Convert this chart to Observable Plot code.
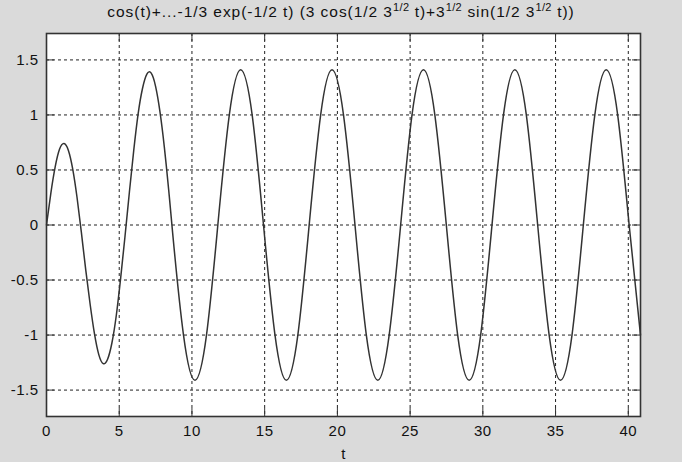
<!DOCTYPE html>
<html><head><meta charset="utf-8">
<script src="https://cdn.jsdelivr.net/npm/d3@7"></script>
<script src="https://cdn.jsdelivr.net/npm/@observablehq/plot@0.6"></script>
<style>
html,body{margin:0;padding:0;background:#dadada;}
#wrap{width:682px;height:462px;position:relative;overflow:hidden;background:#dadada;font-family:"Liberation Sans",Arial,sans-serif;}
#title{position:absolute;left:0;width:682px;top:3px;text-align:center;font-size:15.5px;line-height:18px;letter-spacing:0.95px;color:#111;white-space:nowrap;}
#title sup{font-size:11px;line-height:0;vertical-align:6px;letter-spacing:0.4px;}
#chart{position:absolute;left:0;top:28px;}
</style>
</head><body>
<div id="wrap">
<div id="title">cos(t)+...-1/3 exp(-1/2 t) (3 cos(1/2 3<sup>1/2</sup> t)+3<sup>1/2</sup> sin(1/2 3<sup>1/2</sup> t))</div>
<div id="chart"></div>
</div>
<script>
const tValues = [0, 0.3, 0.6, 0.9, 1.2, 1.5, 1.8, 2.1, 2.4, 2.7, 3.0, 3.3, 3.6, 3.9, 4.2, 4.5, 4.8, 5.1, 5.4, 5.7, 6.0, 6.3, 6.6, 6.9, 7.2, 7.5, 7.8, 8.1, 8.4, 8.7,
  9.42, 10.21, 11.00, 11.78, 12.57, 13.35, 14.14, 14.92, 15.71, 16.49, 17.28, 18.06, 18.85, 19.63, 20.42, 21.21,
  21.99, 22.78, 23.56, 24.35, 25.13, 25.92, 26.70, 27.49, 28.27, 29.06, 29.85, 30.63, 31.42, 32.20, 32.99, 33.77,
  34.56, 35.34, 36.13, 36.91, 37.70, 38.48, 39.27, 40.06, 40.84];
const yValues = [0, 0.29, 0.53, 0.69, 0.74, 0.68, 0.51, 0.25, -0.07, -0.41, -0.72, -0.99, -1.18, -1.26, -1.22, -1.07, -0.82, -0.48, -0.10, 0.30, 0.68, 1.01, 1.24, 1.37, 1.38, 1.26, 1.03, 0.71, 0.32, -0.11,
  -1.00, -1.41, -1.00, 0.00, 1.00, 1.41, 1.00, 0.00, -1.00, -1.41, -1.00, 0.00, 1.00, 1.41, 1.00, 0.00,
  -1.00, -1.41, -1.00, 0.00, 1.00, 1.41, 1.00, 0.00, -1.00, -1.41, -1.00, 0.00, 1.00, 1.41, 1.00, 0.00,
  -1.00, -1.41, -1.00, 0.00, 1.00, 1.41, 1.00, 0.00, -1.00];
const xTicks = [0, 5, 10, 15, 20, 25, 30, 35, 40];
const yTicks = [-1.5, -1, -0.5, 0, 0.5, 1, 1.5];
const xLabel = "t";

const data = tValues.map((t, i) => ({t, y: yValues[i]}));
const W = 682, H = 434, mL = 46, mR = 42, mT = 5, mB = 46;
const plotW = W - mL - mR, plotH = H - mT - mB, tk = 8;

const chart = Plot.plot({
  width: W, height: H,
  marginLeft: mL, marginRight: mR, marginTop: mT, marginBottom: mB,
  style: {background: "transparent", fontFamily: "'Liberation Sans', Arial, sans-serif", fontSize: "15px", letterSpacing: "0.5px", color: "#111"},
  x: {domain: [0, 40.84], ticks: xTicks, tickFormat: d => String(d), tickSize: 0, tickPadding: 9, label: null},
  y: {domain: [-1.74, 1.74], ticks: yTicks, tickFormat: d => String(d), tickSize: 0, tickPadding: 8, label: null},
  marks: [
    Plot.frame({fill: "white", stroke: "none"}),
    Plot.ruleX(xTicks, {x: d => d, stroke: "#222", strokeDasharray: "3,3", strokeWidth: 1}),
    Plot.ruleY(yTicks, {y: d => d, stroke: "#222", strokeDasharray: "3,3", strokeWidth: 1}),
    Plot.line(data, {x: "t", y: "y", curve: "natural", stroke: "#333", strokeWidth: 1.5}),
    Plot.tickX(xTicks, {x: d => d, insetTop: plotH - tk, stroke: "#333"}),
    Plot.tickX(xTicks, {x: d => d, insetBottom: plotH - tk, stroke: "#333"}),
    Plot.tickY(yTicks, {y: d => d, insetRight: plotW - tk, stroke: "#333"}),
    Plot.tickY(yTicks, {y: d => d, insetLeft: plotW - tk, stroke: "#333"}),
    Plot.frame({stroke: "#333", strokeWidth: 1.6}),
    Plot.text([xLabel], {frameAnchor: "bottom", dy: 42, text: d => d, fontSize: 15, fill: "#111"})
  ]
});
document.getElementById("chart").appendChild(chart);
</script>
</body></html>
